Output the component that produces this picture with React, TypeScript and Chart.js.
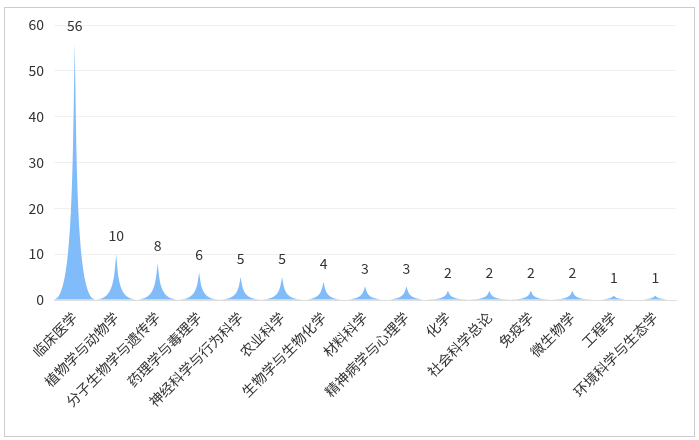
import { useEffect, useRef } from 'react';
import { Chart, registerables } from 'chart.js';
import type { Plugin } from 'chart.js';

Chart.register(...registerables);

const categories = [
  '临床医学', '植物学与动物学', '分子生物学与遗传学', '药理学与毒理学', '神经科学与行为科学',
  '农业科学', '生物学与生物化学', '材料科学', '精神病学与心理学', '化学',
  '社会科学总论', '免疫学', '微生物学', '工程学', '环境科学与生态学',
];
const counts = [56, 10, 8, 6, 5, 5, 4, 3, 3, 2, 2, 2, 2, 1, 1];
const yTicks = [0, 10, 20, 30, 40, 50, 60];

const FONT = '"Noto Sans CJK SC", "Noto Sans", sans-serif';
const SPIKE = '#80bbfa';

// draw each bar as a concave spike, with its value above the tip
const spikePlugin: Plugin<'bar'> = {
  id: 'spikes',
  afterDatasetsDraw(chart) {
    const { ctx } = chart;
    const meta = chart.getDatasetMeta(0);
    ctx.save();
    meta.data.forEach((el, i) => {
      const { x, y, base, width } = el.getProps(['x', 'y', 'base', 'width'], true) as any;
      const l = x - width / 2;
      const r = x + width / 2;
      const mid = (y + base) / 2;
      const k = width * 0.05;
      ctx.beginPath();
      ctx.moveTo(l, base);
      ctx.lineTo(r, base);
      ctx.bezierCurveTo(x + k, base, x + k, mid, x, y);
      ctx.bezierCurveTo(x - k, mid, x - k, base, l, base);
      ctx.closePath();
      ctx.fillStyle = SPIKE;
      ctx.fill();

      ctx.fillStyle = '#333';
      ctx.font = `14px ${FONT}`;
      ctx.textAlign = 'center';
      ctx.textBaseline = 'middle';
      ctx.fillText(String(counts[i]), x, y - 18);
    });
    ctx.restore();
  },
};

export default function App() {
  const canvasRef = useRef<HTMLCanvasElement>(null);

  useEffect(() => {
    if (!canvasRef.current) return;
    const chart = new Chart(canvasRef.current, {
      type: 'bar',
      data: {
        labels: categories,
        datasets: [{
          data: counts,
          backgroundColor: 'rgba(0,0,0,0)',
          borderWidth: 0,
          barPercentage: 1,
          categoryPercentage: 1,
        }],
      },
      options: {
        responsive: true,
        maintainAspectRatio: false,
        animation: false,
        layout: { padding: { top: 17, right: 18, left: 0, bottom: 0 } },
        plugins: { legend: { display: false }, tooltip: { enabled: false } },
        scales: {
          x: {
            afterFit: (s) => { s.height = 136; },
            grid: { display: false, drawTicks: false },
            border: { color: '#dddddd' },
            ticks: {
              color: '#333',
              font: { family: FONT, size: 14 },
              minRotation: 45,
              maxRotation: 45,
              autoSkip: false,
              padding: 9,
            },
          },
          y: {
            min: 0,
            max: 60,
            afterFit: (s) => { s.width = 49; s.paddingTop = 0; s.paddingBottom = 0; },
            afterBuildTicks: (s) => { s.ticks = yTicks.map(v => ({ value: v })); },
            grid: { color: '#f0f0f0', drawTicks: false },
            border: { display: false },
            ticks: {
              color: '#333',
              font: { family: FONT, size: 14 },
              padding: 10,
            },
          },
        },
      },
      plugins: [spikePlugin],
    });
    return () => chart.destroy();
  }, []);

  return (
    <div style={{
      position: 'absolute', left: 4, top: 7, width: 689, height: 428,
      border: '1px solid #cccccc', background: '#fff',
    }}>
      <div style={{ position: 'relative', width: '100%', height: '100%' }}>
        <canvas ref={canvasRef} />
      </div>
    </div>
  );
}
